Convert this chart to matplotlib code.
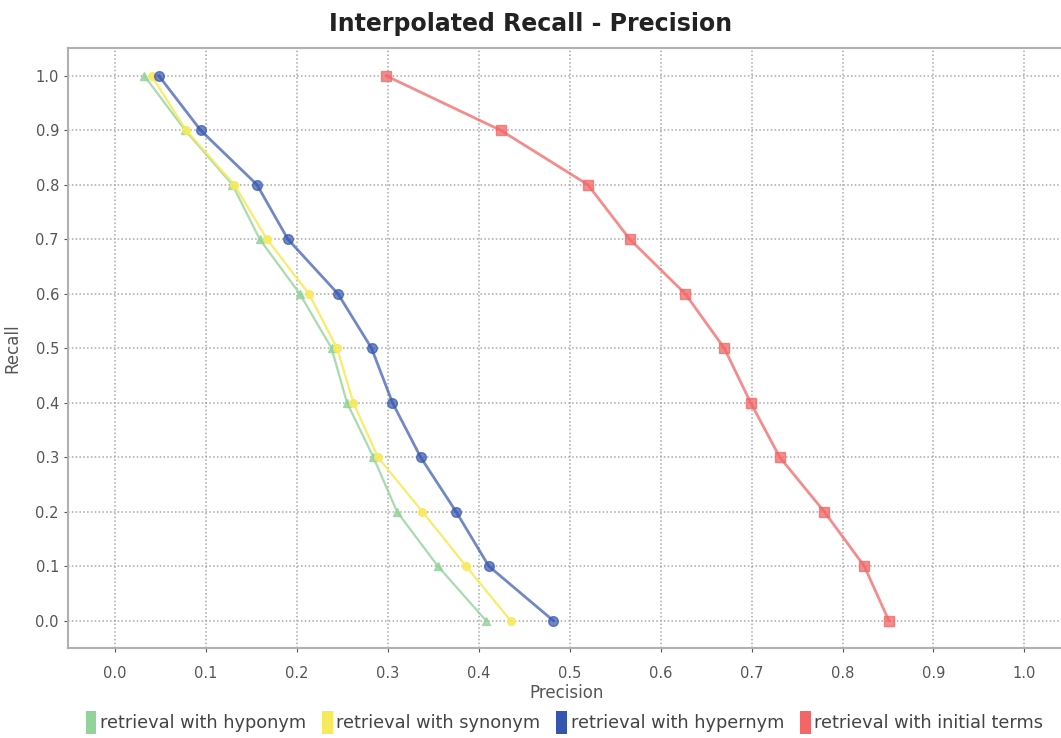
import numpy as np
import matplotlib
matplotlib.use('Agg')
import matplotlib.pyplot as plt
from matplotlib.patches import Patch

plt.rcParams['font.family'] = ['DejaVu Sans']

# Recall levels (y) and interpolated precision for each run (x)
recall = [1.0, 0.9, 0.8, 0.7, 0.6, 0.5, 0.4, 0.3, 0.2, 0.1, 0.0]
prec_hyponym = [0.032, 0.077, 0.129, 0.159, 0.203, 0.238, 0.255, 0.284, 0.310, 0.355, 0.408]
prec_synonym = [0.040, 0.078, 0.131, 0.167, 0.213, 0.244, 0.262, 0.289, 0.338, 0.386, 0.435]
prec_hypernym = [0.048, 0.094, 0.156, 0.190, 0.245, 0.282, 0.305, 0.336, 0.375, 0.411, 0.482]
prec_initial = [0.298, 0.424, 0.520, 0.566, 0.627, 0.670, 0.699, 0.731, 0.780, 0.824, 0.851]

labels = ['retrieval with hyponym', 'retrieval with synonym',
          'retrieval with hypernym', 'retrieval with initial terms']
colors = ['#92d39a', '#f7ea5c', '#3556b0', '#f26666']
ticks = np.arange(0, 1.01, 0.1)

fig = plt.figure(figsize=(10.61, 7.38), dpi=100)
ax = fig.add_axes([0.064, 0.122, 0.94, 0.813])

ax.plot(prec_hyponym, recall, color=colors[0], marker='^', ms=6, lw=1.6, alpha=0.8)
ax.plot(prec_synonym, recall, color=colors[1], marker='o', ms=5.5, lw=1.6, alpha=0.9)
ax.plot(prec_hypernym, recall, color=colors[2], marker='o', ms=7, lw=2, alpha=0.7)
ax.plot(prec_initial, recall, color=colors[3], marker='s', ms=7, lw=2, alpha=0.75)

ax.set_xlim(-0.052, 1.045)
ax.set_ylim(-0.05, 1.051)
ax.set_xticks(ticks)
ax.set_yticks(ticks)
ax.set_xticklabels([f'{t:.1f}' for t in ticks])
ax.set_yticklabels([f'{t:.1f}' for t in ticks])
ax.grid(True, color='#a8a8a8', linestyle=(0, (1, 1.5)), linewidth=1.1)
ax.tick_params(colors='#555555', labelsize=10.5, length=3)
ax.tick_params(axis='x', pad=10)
for s in ax.spines.values():
    s.set_color('#b0b0b0')
    s.set_linewidth(1.5)

ax.set_xlabel('Precision', fontsize=12, color='#555555', labelpad=2)
ax.set_ylabel('Recall', fontsize=12, color='#555555', labelpad=10)
fig.text(0.5, 0.967, 'Interpolated Recall - Precision', ha='center', va='center',
         fontsize=17, fontweight='bold', color='#222222')

handles = [Patch(facecolor=c, edgecolor='none') for c in colors]
fig.legend(handles, labels, loc='lower center', bbox_to_anchor=(0.532, -0.016), ncol=4,
           frameon=False, fontsize=12.8, handlelength=0.6, handleheight=1.6,
           handletextpad=0.2, columnspacing=0.9, labelcolor='#444444')

fig.savefig('out.png', dpi=100)
